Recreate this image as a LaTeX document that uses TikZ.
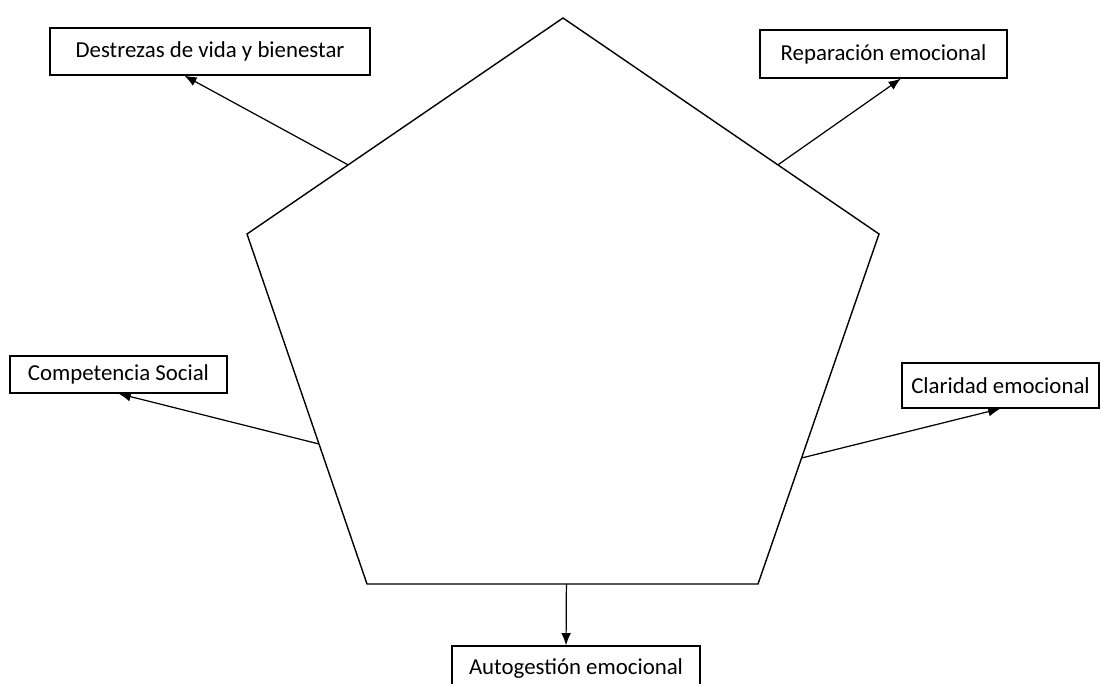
\documentclass[tikz,border=0pt]{standalone}
\usepackage{fontspec}
\setmainfont{Carlito}
\usepackage{tikz}
\usetikzlibrary{arrows.meta, positioning, calc}

\begin{document}
\begin{tikzpicture}[
    x=0.02cm, y=-0.02cm,
    box/.style={draw, rectangle, line width=0.7pt, align=center, inner sep=0pt, font=\fontsize{13}{15}\selectfont},
    arrow/.style={-{Latex[length=7pt, width=5.5pt]}, line width=0.7pt},
]

% Page frame
\clip (0, 0) rectangle (1101, 683);

% Pentagon corners
\coordinate (top) at (563, 18);
\coordinate (ul) at (247, 234);
\coordinate (ur) at (879, 234);
\coordinate (ll) at (367, 584);
\coordinate (lr) at (758, 584);
\draw[line width=0.8pt] (top) -- (ur) -- (lr) -- (ll) -- (ul) -- cycle;

% Points on the edges
\coordinate (e1) at ($(top)!0.68!(ul)$);
\coordinate (e2) at ($(top)!0.68!(ur)$);
\coordinate (e3) at ($(ul)!0.6!(ll)$);
\coordinate (e4) at ($(ur)!0.64!(lr)$);
\coordinate (e5) at ($(ll)!0.51!(lr)$);

% Destrezas
\node[box, minimum width=6.4cm, minimum height=0.94cm] (destrezas) at (210, 51.5) {Destrezas de vida y bienestar};

% Reparacion
\node[box, minimum width=4.94cm, minimum height=0.96cm] (reparacion) at (883.5, 54) {Reparación emocional};

% Competencia
\node[box, minimum width=4.34cm, minimum height=0.74cm] (competencia) at (118.5, 374.5) {Competencia Social};

% Claridad
\node[box, minimum width=3.94cm, minimum height=0.9cm] (claridad) at (1000.5, 385.5) {Claridad emocional};

% Autogestion
\node[box, minimum width=4.96cm, minimum height=0.9cm] (autogestion) at (576, 668.5) {Autogestión emocional};

% Arrows
\draw[arrow] (e1) -- ($(destrezas.south west)!0.42!(destrezas.south east)$);
\draw[arrow] (e2) -- ($(reparacion.south west)!0.57!(reparacion.south east)$);
\draw[arrow] (e3) -- (competencia.south);
\draw[arrow] (e4) -- (claridad.south);
\draw[arrow] (e5) -- ($(autogestion.north west)!0.46!(autogestion.north east)$);

\end{tikzpicture}
\end{document}
